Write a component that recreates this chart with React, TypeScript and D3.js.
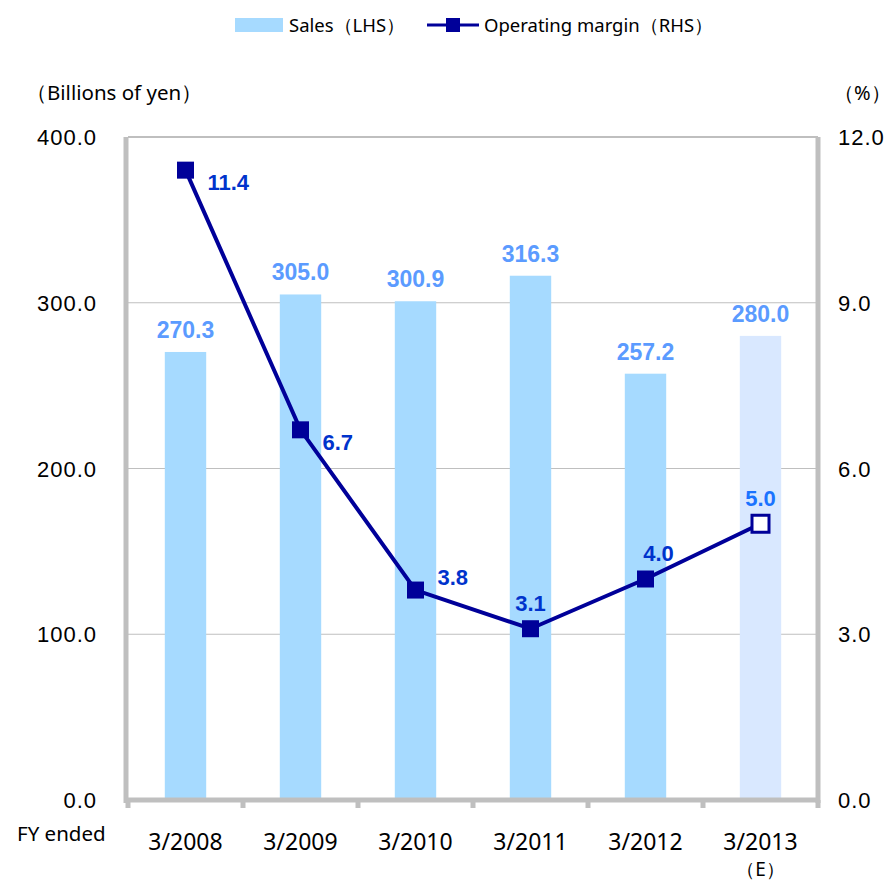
import React, { useEffect, useRef } from 'react';
import * as d3 from 'd3';

const categories = ['3/2008', '3/2009', '3/2010', '3/2011', '3/2012', '3/2013'];
const categorySub = ['', '', '', '', '', '（E）'];
const sales = [270.3, 305.0, 300.9, 316.3, 257.2, 280.0];
const margin = [11.4, 6.7, 3.8, 3.1, 4.0, 5.0];
const estimated = [false, false, false, false, false, true];
const leftTicks = [0, 100, 200, 300, 400];
const rightTicks = [0, 3, 6, 9, 12];
// where each margin label sits relative to its marker
const marginLabelPos = ['right-low', 'right-low', 'right-up', 'up', 'up-right', 'up'];

const App = () => {
  const svgRef = useRef<SVGSVGElement>(null);

  useEffect(() => {
    const svg = d3.select(svgRef.current);
    svg.selectAll('*').remove();

    const W = 890, H = 883;
    const left = 128, right = 818, top = 137, bottom = 800;
    const font = 'Arial, "Liberation Sans", sans-serif';
    const font2 = '"Noto Sans", "Open Sans", sans-serif';

    svg.attr('width', W).attr('height', H);
    svg.append('rect').attr('width', W).attr('height', H).attr('fill', '#fff');

    const x = d3.scaleBand().domain(categories).range([left, right]).paddingInner(0.64).paddingOuter(0.32);
    const yL = d3.scaleLinear().domain([0, 400]).range([bottom, top]);
    const yR = d3.scaleLinear().domain([0, 12]).range([bottom, top]);
    const cx = (c: string) => (x(c) as number) + x.bandwidth() / 2;

    // gridlines
    svg.append('g').selectAll('line').data(leftTicks.slice(1)).enter().append('line')
      .attr('x1', left).attr('x2', right)
      .attr('y1', d => yL(d)).attr('y2', d => yL(d))
      .attr('stroke', '#bfbfbf').attr('stroke-width', d => d === 400 ? 2 : 1.2);

    // bars
    svg.append('g').selectAll('rect').data(sales).enter().append('rect')
      .attr('x', (d, i) => x(categories[i]) as number)
      .attr('width', x.bandwidth())
      .attr('y', d => yL(d))
      .attr('height', d => bottom - yL(d))
      .attr('fill', (d, i) => estimated[i] ? '#d9e8ff' : '#a6daff');

    // axes frame
    svg.append('line').attr('x1', left - 2).attr('x2', left - 2).attr('y1', top).attr('y2', bottom + 3)
      .attr('stroke', '#bfbfbf').attr('stroke-width', 5);
    svg.append('line').attr('x1', right).attr('x2', right).attr('y1', top).attr('y2', bottom + 3)
      .attr('stroke', '#bfbfbf').attr('stroke-width', 5);
    svg.append('line').attr('x1', left - 4).attr('x2', right + 2).attr('y1', bottom).attr('y2', bottom)
      .attr('stroke', '#bfbfbf').attr('stroke-width', 5);
    const step = x.step();
    const boundaries = d3.range(categories.length + 1).map(i => left + i * step);
    svg.append('g').selectAll('line').data(boundaries).enter().append('line')
      .attr('x1', d => d).attr('x2', d => d).attr('y1', bottom).attr('y2', bottom + 8)
      .attr('stroke', '#bfbfbf').attr('stroke-width', 5);

    // tick labels
    svg.append('g').selectAll('text').data(leftTicks).enter().append('text')
      .attr('x', 97).attr('y', d => yL(d) + 8).attr('text-anchor', 'end')
      .attr('font-family', font).attr('font-size', 22).attr('letter-spacing', 1).attr('fill', '#000')
      .text(d => d3.format('.1f')(d));
    svg.append('g').selectAll('text').data(rightTicks).enter().append('text')
      .attr('x', 838).attr('y', d => yR(d) + 8).attr('text-anchor', 'start')
      .attr('font-family', font).attr('font-size', 22).attr('letter-spacing', 1).attr('fill', '#000')
      .text(d => d3.format('.1f')(d));

    svg.append('text').attr('x', 26).attr('y', 100).attr('font-family', font2).attr('font-size', 20.5)
      .attr('fill', '#000').text('（Billions of yen）');
    svg.append('text').attr('x', 834).attr('y', 100).attr('font-family', font2).attr('font-size', 20)
      .attr('fill', '#000').text('（%）');

    // category labels
    svg.append('g').selectAll('text').data(categories).enter().append('text')
      .attr('x', d => cx(d)).attr('y', 850).attr('text-anchor', 'middle')
      .attr('font-family', font2).attr('font-size', 23).attr('fill', '#000')
      .text(d => d);
    svg.append('g').selectAll('text').data(categorySub).enter().append('text')
      .attr('x', (d, i) => cx(categories[i])).attr('y', 876).attr('text-anchor', 'middle')
      .attr('font-family', font2).attr('font-size', 19).attr('fill', '#000')
      .text(d => d);
    svg.append('text').attr('x', 17).attr('y', 841).attr('font-family', font2).attr('font-size', 20.5)
      .attr('fill', '#000').text('FY ended');

    // bar labels
    svg.append('g').selectAll('text').data(sales).enter().append('text')
      .attr('x', (d, i) => cx(categories[i])).attr('y', d => yL(d) - 14).attr('text-anchor', 'middle')
      .attr('font-family', font).attr('font-weight', 'bold').attr('font-size', 23).attr('fill', '#5b9bff')
      .text(d => d3.format('.1f')(d));

    // margin line
    const line = d3.line<number>().x((d, i) => cx(categories[i])).y(d => yR(d));
    svg.append('path').datum(margin).attr('d', line).attr('fill', 'none')
      .attr('stroke', '#000099').attr('stroke-width', 4);

    const ms = 17;
    svg.append('g').selectAll('rect').data(margin).enter().append('rect')
      .attr('x', (d, i) => cx(categories[i]) - ms / 2).attr('y', d => yR(d) - ms / 2)
      .attr('width', ms).attr('height', ms)
      .attr('fill', (d, i) => estimated[i] ? '#fff' : '#000099')
      .attr('stroke', '#000099').attr('stroke-width', (d, i) => estimated[i] ? 3 : 0);

    svg.append('g').selectAll('text').data(margin).enter().append('text')
      .attr('x', (d, i) => {
        const p = marginLabelPos[i];
        const c = cx(categories[i]);
        if (p === 'up') return c;
        if (p === 'up-right') return c + 13;
        return c + 22;
      })
      .attr('y', (d, i) => {
        const p = marginLabelPos[i];
        const c = yR(d);
        if (p === 'right-low') return c + 20;
        if (p === 'right-up') return c - 5;
        return c - 18;
      })
      .attr('text-anchor', (d, i) => marginLabelPos[i].startsWith('right') ? 'start' : 'middle')
      .attr('font-family', font).attr('font-weight', 'bold').attr('font-size', 22)
      .attr('fill', (d, i) => estimated[i] ? '#1a73ff' : '#0033cc')
      .text(d => d3.format('.1f')(d));

    // legend
    const lg = svg.append('g');
    lg.append('rect').attr('x', 235).attr('y', 18).attr('width', 48).attr('height', 14).attr('fill', '#a6daff');
    lg.append('text').attr('x', 289).attr('y', 32).attr('font-family', font2).attr('font-size', 18.5)
      .attr('fill', '#000').text('Sales（LHS）');
    lg.append('line').attr('x1', 427).attr('x2', 479).attr('y1', 25).attr('y2', 25)
      .attr('stroke', '#000099').attr('stroke-width', 3);
    lg.append('rect').attr('x', 446).attr('y', 18).attr('width', 14).attr('height', 14).attr('fill', '#000099');
    lg.append('text').attr('x', 484).attr('y', 32).attr('font-family', font2).attr('font-size', 18.5)
      .attr('fill', '#000').text('Operating margin（RHS）');
  }, []);

  return <svg ref={svgRef} style={{ position: 'absolute', left: 0, top: 0 }}></svg>;
};

export default App;
